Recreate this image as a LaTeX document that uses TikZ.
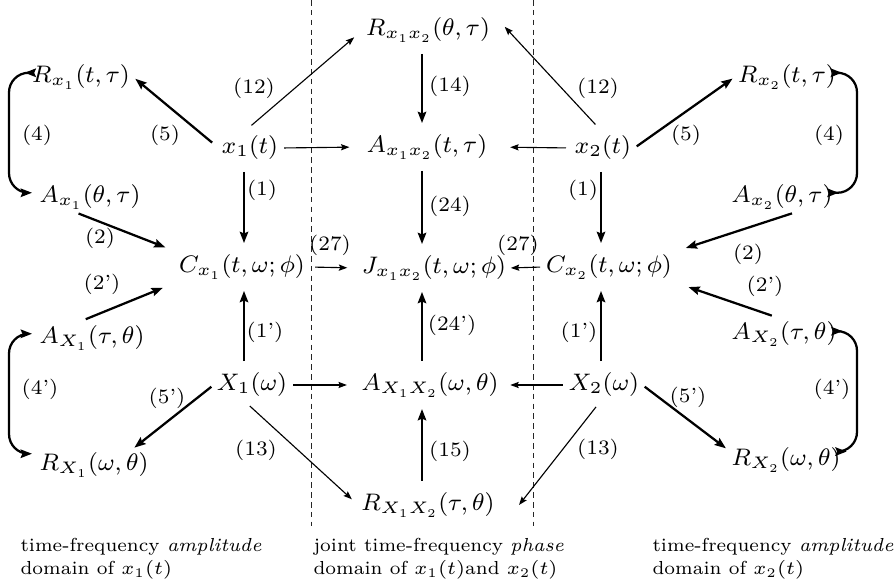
\RequirePackage{fix-cm}
\documentclass[tikz,border=0pt]{standalone}
\usetikzlibrary{arrows.meta}
\newcommand\termsize{\fontsize{8.5}{10}\selectfont}
\newcommand\lblsize{\fontsize{7.3}{9}\selectfont}
\newcommand\capsize{\fontsize{6.7}{8.2}\selectfont}

\begin{document}
\begin{tikzpicture}[x=0.0125cm, y=-0.0125cm,
    >={Stealth[length=4pt, width=3pt, inset=0.6pt]},
    term/.style={inner sep=1pt, font=\termsize},
    lbl/.style={inner sep=0pt, font=\lblsize},
    thk/.style={line width=0.8pt, ->, shorten <=3pt, shorten >=3pt},
    thn/.style={line width=0.4pt, -{Stealth[length=3pt, width=2.2pt, inset=0.5pt]}, shorten <=3pt, shorten >=3pt},
    loopback/.style={line width=0.8pt, <->, rounded corners=7pt},
    zoneline/.style={dash pattern=on 2pt off 1.5pt, line width=0.35pt, black!85},
    captext/.style={font=\capsize, align=left, anchor=west, inner sep=0pt}
]
\useasboundingbox (0,0) rectangle (896,587);

% column guides
\coordinate (lcol) at (244,0);
\coordinate (mcol) at (422,0);
\coordinate (rcol) at (601,0);
\coordinate (lbar) at (9,0);
\coordinate (rbar) at (857,0);

% domain borders
\draw[zoneline] (311,0) -- (311,526);
\draw[zoneline] (533,0) -- (533,526);

% left domain
\node[term] (Rx1) at (81,77) {$R_{x_1}(t,\tau)$};
\node[term] (Ax1) at (90,197) {$A_{x_1}(\theta,\tau)$};
\node[term] (x1) at (250,148) {$x_1(t)$};
\node[term] (Cx1) at (242,267) {$C_{x_1}(t,\omega;\phi)$};
\node[term] (AX1) at (92,338) {$A_{X_1}(\tau,\theta)$};
\node[term] (X1) at (252,385) {$X_1(\omega)$};
\node[term] (RX1) at (94,465) {$R_{X_1}(\omega,\theta)$};

% joint domain
\node[term] (Rx12) at (428,30) {$R_{x_1x_2}(\theta,\tau)$};
\node[term] (Ax12) at (427,147) {$A_{x_1x_2}(t,\tau)$};
\node[term] (J12) at (434,268) {$J_{x_1x_2}(t,\omega;\phi)$};
\node[term] (AX12) at (430,385) {$A_{X_1X_2}(\omega,\theta)$};
\node[term] (RX12) at (428,505) {$R_{X_1X_2}(\tau,\theta)$};

% right domain
\node[term] (x2) at (603,148) {$x_2(t)$};
\node[term] (Rx2) at (787,77) {$R_{x_2}(t,\tau)$};
\node[term] (Ax2) at (782,197) {$A_{x_2}(\theta,\tau)$};
\node[term] (Cx2) at (609,267) {$C_{x_2}(t,\omega;\phi)$};
\node[term] (AX2) at (784,334) {$A_{X_2}(\tau,\theta)$};
\node[term] (X2) at (604,385) {$X_2(\omega)$};
\node[term] (RX2) at (786,460) {$R_{X_2}(\omega,\theta)$};

% loop ends
\coordinate (lr1) at ([xshift=-1.5pt, yshift=1.5pt]Rx1.west);
\coordinate (la1) at ([xshift=-1.5pt, yshift=1.5pt]Ax1.west);
\coordinate (lA1) at ([xshift=-1.5pt, yshift=1.5pt]AX1.west);
\coordinate (lR1) at ([xshift=-1.5pt, yshift=4pt]RX1.west);
\coordinate (rr2) at ([xshift=1pt, yshift=1.5pt]Rx2.east);
\coordinate (ra2) at ([xshift=1pt, yshift=1.5pt]Ax2.east);
\coordinate (rA2) at ([xshift=1pt, yshift=1pt]AX2.east);
\coordinate (rR2) at ([xshift=1pt, yshift=3pt]RX2.east);

% left arrows
\draw[thk, shorten <=3pt, shorten >=1pt] (x1.west) -- (Rx1.east);
\draw[thk] (x1.south -| lcol) -- (Cx1.north -| lcol);
\draw[thk, shorten <=1pt, shorten >=4pt] ([xshift=-5pt]Ax1.south) -- (Cx1.north west);
\draw[thk, shorten <=3pt, shorten >=5pt] ([xshift=-5pt]AX1.north) -- (Cx1.south west);
\draw[thk] (X1.north -| lcol) -- (Cx1.south -| lcol);
\draw[thk, shorten <=1pt, shorten >=1pt] (X1.west) -- ([xshift=-7pt]RX1.north east);
\draw[loopback] (lr1) -- (lr1 -| lbar) -- (la1 -| lbar) -- (la1);
\draw[loopback] (lA1) -- (lA1 -| lbar) -- (lR1 -| lbar) -- (lR1);

% links into the joint domain
\draw[thn, shorten <=4pt, shorten >=4pt] ([xshift=-2.5pt]x1.north) -- (Rx12.west);
\draw[thn, shorten <=1pt, shorten >=5pt] (x1.east) -- (Ax12.west);
\draw[thn, shorten <=1pt, shorten >=4pt] (X1.east) -- (AX12.west);
\draw[thn, shorten <=3pt, shorten >=3pt] ([xshift=-3pt]X1.south) -- (RX12.west);
\draw[thn, shorten <=2.5pt, shorten >=4pt] (Cx1.east) -- (J12.west);
\draw[thn, shorten <=1pt, shorten >=0.5pt] (Cx2.west) -- (J12.east);
\draw[thn, shorten <=4pt, shorten >=6pt] (x2.north) -- (Rx12.north east);
\draw[thn, shorten <=2pt, shorten >=7pt] (x2.west) -- (Ax12.east);
\draw[thn, shorten <=1pt, shorten >=3pt] (X2.west) -- (AX12.east);
\draw[thn, shorten <=3pt, shorten >=0pt] ([xshift=-1pt]X2.south) -- ([xshift=7.5pt]RX12.east);

% joint column
\draw[thk] (Rx12.south -| mcol) -- (Ax12.north -| mcol);
\draw[thk] (Ax12.south -| mcol) -- (J12.north -| mcol);
\draw[thk] (AX12.north -| mcol) -- (J12.south -| mcol);
\draw[thk] (RX12.north -| mcol) -- (AX12.south -| mcol);

% right arrows
\draw[thk, shorten <=1pt, shorten >=1pt] (x2.east) -- (Rx2.west);
\draw[thk] (x2.south -| rcol) -- (Cx2.north -| rcol);
\draw[thk, shorten <=1pt, shorten >=4pt] ([xshift=4.5pt]Ax2.south) -- (Cx2.north east);
\draw[thk, shorten <=3pt, shorten >=5pt] ([xshift=-1.5pt]AX2.north) -- (Cx2.south east);
\draw[thk] (X2.north -| rcol) -- (Cx2.south -| rcol);
\draw[thk, shorten <=1pt, shorten >=1pt] (X2.east) -- ([yshift=-2pt]RX2.north west);
\draw[loopback] (rr2) -- (rr2 -| rbar) -- (ra2 -| rbar) -- (ra2);
\draw[loopback] (rA2) -- (rA2 -| rbar) -- (rR2 -| rbar) -- (rR2);

% equation numbers
\node[lbl] (n12a) at (254,88) {(12)};
\node[lbl] (n5a) at (165,135) {(5)};
\node[lbl] (n4a) at (37,135) {(4)};
\node[lbl] (n1a) at (262,190) {(1)};
\node[lbl] (n2a) at (100,238) {(2)};
\node[lbl] (n2pa) at (102,284) {(2')};
\node[lbl] (n1pa) at (265,332) {(1')};
\node[lbl] (n4pa) at (40,389) {(4')};
\node[lbl] (n5pa) at (167,398) {(5')};
\node[lbl] (n13a) at (256,450) {(13)};
\node[lbl] (n14) at (450,86) {(14)};
\node[lbl] (n24) at (450,206) {(24)};
\node[lbl] (n27a) at (330,245) {(27)};
\node[lbl] (n27b) at (518,245) {(27)};
\node[lbl] (n24p) at (452,325) {(24')};
\node[lbl] (n15) at (450,451) {(15)};
\node[lbl] (n12b) at (598,88) {(12)};
\node[lbl] (n5b) at (686,135) {(5)};
\node[lbl] (n4b) at (829,135) {(4)};
\node[lbl] (n1b) at (583,190) {(1)};
\node[lbl] (n2b) at (748,254) {(2)};
\node[lbl] (n2pb) at (765,286) {(2')};
\node[lbl] (n1pb) at (579,332) {(1')};
\node[lbl] (n5pb) at (688,397) {(5')};
\node[lbl] (n4pb) at (832,389) {(4')};
\node[lbl] (n13b) at (598,449) {(13)};

% domain captions
\node[captext] (capL) at (20,559) {time-frequency \emph{amplitude}\\domain of $x_1(t)$};
\node[captext] (capM) at (313,559) {joint time-frequency \emph{phase}\\domain of $x_1(t)$and $x_2(t)$};
\node[captext] (capR) at (652,559) {time-frequency \emph{amplitude}\\domain of $x_2(t)$};

\end{tikzpicture}
\end{document}
